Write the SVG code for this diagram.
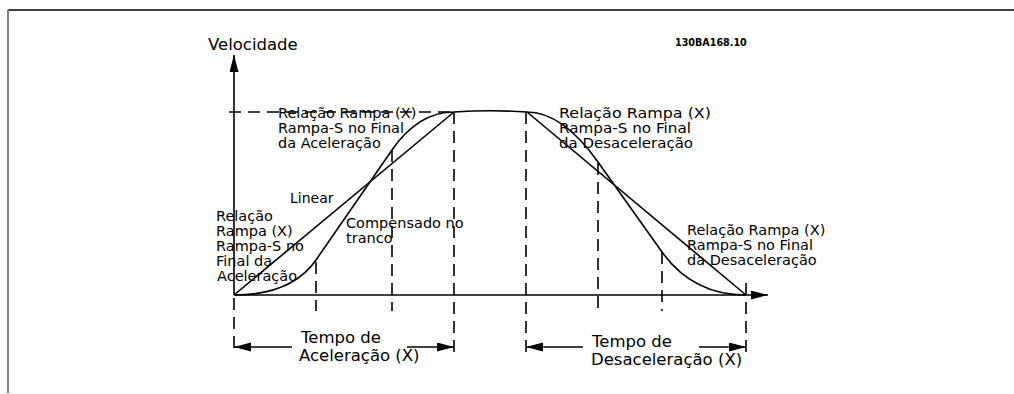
<svg xmlns="http://www.w3.org/2000/svg" width="1014" height="394" viewBox="0 0 1014 394">
<style>
.ln{fill:none;stroke:#000;stroke-width:1.6}
.dash{fill:none;stroke:#000;stroke-width:1.6;stroke-dasharray:12 7}
.t{font-family:"DejaVu Sans",Verdana,sans-serif;fill:#000}
.s{font-size:14.5px}
.b{font-size:16.5px}
</style>
<defs>
<marker id="ah" markerUnits="userSpaceOnUse" markerWidth="18" markerHeight="10" refX="17" refY="4.5" orient="auto">
<path d="M0,0 L17,4.5 L0,9 z" fill="#000"/>
</marker>
</defs>
<rect width="1014" height="394" fill="#fff"/>
<g id="frame">
<line x1="8" y1="10" x2="1014" y2="10" stroke="#000" stroke-width="1.5"/>
<line x1="8" y1="9.5" x2="8" y2="393" stroke="#808080" stroke-width="2"/>
</g>
<g id="connectors">
<line class="ln" x1="234" y1="295" x2="234" y2="55" marker-end="url(#ah)"/>
<line class="ln" x1="234" y1="295" x2="768" y2="295" marker-end="url(#ah)"/>
<line class="dash" x1="229" y1="112" x2="454" y2="112"/>
<line class="dash" x1="234" y1="298" x2="234" y2="355"/>
<line class="dash" x1="316" y1="262" x2="316" y2="311"/>
<line class="dash" x1="392" y1="150" x2="392" y2="311"/>
<line class="dash" x1="454" y1="112" x2="454" y2="356"/>
<line class="dash" x1="526" y1="112" x2="526" y2="356"/>
<line class="dash" x1="598" y1="163" x2="598" y2="311"/>
<line class="dash" x1="662" y1="252" x2="662" y2="311"/>
<line class="dash" x1="746" y1="283" x2="746" y2="356"/>
<line class="ln" x1="292" y1="347" x2="234" y2="347" marker-end="url(#ah)"/>
<line class="ln" x1="407" y1="347" x2="454" y2="347" marker-end="url(#ah)"/>
<line class="ln" x1="583" y1="347" x2="526" y2="347" marker-end="url(#ah)"/>
<line class="ln" x1="699" y1="347" x2="746" y2="347" marker-end="url(#ah)"/>
</g>
<g id="curves">
<line class="ln" x1="234" y1="295" x2="454" y2="112"/>
<path class="ln" d="M234,295 Q291.8,295 316,260 L392,150 Q418.3,112 454,112 Q490,109.5 527,112 Q562.4,112 598,162 L662,252 Q692.6,295 746,295"/>
<line class="ln" x1="527" y1="112" x2="746" y2="295"/>
</g>
<g id="label-velocidade"><text class="t b" x="208" y="50">Velocidade</text></g>
<g id="label-code"><text class="t" x="675" y="45.5" font-size="9.6" font-weight="bold">130BA168.10</text></g>
<g id="label-top-left">
<text class="t s" x="278" y="118">Relação Rampa (X)</text>
<text class="t s" x="278" y="133">Rampa-S no Final</text>
<text class="t s" x="278" y="148">da Aceleração</text>
</g>
<g id="label-top-right">
<text class="t s" x="559" y="118" textLength="152" lengthAdjust="spacingAndGlyphs">Relação Rampa (X)</text>
<text class="t s" x="559" y="133" textLength="132" lengthAdjust="spacingAndGlyphs">Rampa-S no Final</text>
<text class="t s" x="559" y="148" textLength="134" lengthAdjust="spacingAndGlyphs">da Desaceleração</text>
</g>
<g id="label-linear"><text class="t" font-size="14" x="290" y="203">Linear</text></g>
<g id="label-compensado">
<text class="t s" x="346" y="228">Compensado no</text>
<text class="t s" x="346" y="243">tranco</text>
</g>
<g id="label-left">
<text class="t s" x="216" y="221">Relação</text>
<text class="t s" x="216" y="236">Rampa (X)</text>
<text class="t s" x="216" y="251">Rampa-S no</text>
<text class="t s" x="216" y="266">Final da</text>
<text class="t s" x="217" y="281">Aceleração</text>
</g>
<g id="label-bottom-right">
<text class="t s" x="687" y="235">Relação Rampa (X)</text>
<text class="t s" x="687" y="250">Rampa-S no Final</text>
<text class="t s" x="687" y="265">da Desaceleração</text>
</g>
<g id="label-tempo-acel">
<text class="t b" x="301" y="343">Tempo de</text>
<text class="t b" x="299" y="361">Aceleração (X)</text>
</g>
<g id="label-tempo-desacel">
<text class="t b" x="592" y="347">Tempo de</text>
<text class="t b" x="591" y="365">Desaceleração (X)</text>
</g>
</svg>
